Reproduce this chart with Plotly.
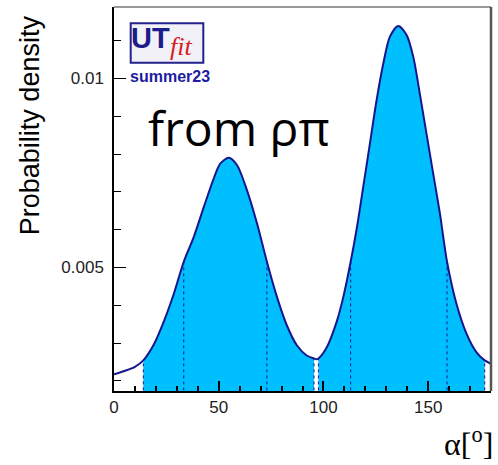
import plotly.graph_objects as go

# ---- data ----
alpha = [0, 5, 10, 14, 19, 24, 28.6, 33.3, 38.1, 42.9, 47.6, 50.8, 54.8, 58.7, 63.5,
         68.3, 73, 77.8, 82.5, 87.3, 92, 95.5, 96.8, 97.6, 101.6, 106.3, 109.5, 113,
         115.9, 119, 122.2, 125.4, 128.6, 131.7, 135.7, 139.7, 142.9, 146, 149.2,
         152.4, 155.6, 159, 163.5, 168.3, 173, 177, 180]
density = [0.00217, 0.00226, 0.00237, 0.00254, 0.00296, 0.00360, 0.00431, 0.00515,
           0.00581, 0.00660, 0.00735, 0.00775, 0.00790, 0.00771, 0.00704, 0.00616,
           0.00515, 0.00422, 0.00347, 0.00294, 0.00267, 0.00259, 0.00257, 0.00259,
           0.00289, 0.00356, 0.00422, 0.00515, 0.00603, 0.00713, 0.00828, 0.00943,
           0.01040, 0.01110, 0.01139, 0.01115, 0.01057, 0.00960, 0.00854, 0.00748,
           0.00643, 0.00515, 0.00404, 0.00325, 0.00276, 0.00254, 0.00245]
# credible-interval region bounds (filled areas)
regions = [(14, 95.5), (97.6, 177)]
# interval edges drawn as dotted lines
edges = [14, 33.3, 73, 95.5, 97.6, 113, 159, 177]

line_col = "#16168c"
fill_col = "#00bfff"

fig = go.Figure()

for lo, hi in regions:
    xs = [a for a in alpha if lo <= a <= hi]
    ys = [d for a, d in zip(alpha, density) if lo <= a <= hi]
    fig.add_trace(go.Scatter(x=xs, y=ys, mode="lines", fill="tozeroy",
                             fillcolor=fill_col, line=dict(width=0, color=fill_col,
                             shape="spline", smoothing=0.8),
                             hoverinfo="skip", showlegend=False))

for e in edges:
    h = density[alpha.index(e)]
    fig.add_trace(go.Scatter(x=[e, e], y=[0, h], mode="lines",
                             line=dict(color=line_col, width=1, dash="dot"),
                             hoverinfo="skip", showlegend=False))

fig.add_trace(go.Scatter(x=alpha, y=density, mode="lines",
                         line=dict(color=line_col, width=2, shape="spline", smoothing=0.8),
                         showlegend=False))

tickfont = dict(family="Liberation Sans", size=17, color="#222")
fig.update_layout(
    width=498, height=465,
    margin=dict(l=114, r=7, t=7, b=74),
    plot_bgcolor="white", paper_bgcolor="white",
    xaxis=dict(range=[0, 180], showline=True, linecolor="black", linewidth=1.5,
               ticks="inside", ticklen=10, tickcolor="black", tickwidth=1.5,
               dtick=50, tick0=0, showgrid=False, zeroline=False, tickfont=tickfont,
               minor=dict(ticks="inside", ticklen=5, dtick=10, tickcolor="black", tickwidth=1.5)),
    yaxis=dict(range=[0.00173, 0.01189], showline=True, linecolor="black", linewidth=1.5,
               ticks="inside", ticklen=12, tickcolor="black", tickwidth=1.2,
               dtick=0.005, tick0=0, showgrid=False, zeroline=False, tickfont=tickfont,
               ticklabelstandoff=5,
               minor=dict(ticks="inside", ticklen=7, dtick=0.001, tickcolor="black", tickwidth=1.2)),
    shapes=[
        dict(type="line", xref="paper", yref="paper", x0=0, x1=1, y0=1, y1=1,
             line=dict(color="#777", width=1.5)),
        dict(type="line", xref="paper", yref="paper", x0=1, x1=1, y0=0, y1=1,
             line=dict(color="#555", width=2.5)),
        dict(type="rect", xref="paper", yref="paper", x0=0.0443, x1=0.2369, y0=0.855, y1=0.9576,
             line=dict(color="#22228a", width=2), fillcolor="#f3f1f8"),
    ],
    annotations=[
        dict(text="Probability density", x=-0.222, y=0.693, xref="paper", yref="paper",
             textangle=-90, showarrow=False, xanchor="center", yanchor="middle",
             font=dict(family="Liberation Sans", size=27, color="black")),
        dict(text="α[<sup>o</sup>]", x=0.9416, y=-0.133, xref="paper", yref="paper",
             showarrow=False, xanchor="center", yanchor="middle",
             font=dict(family="Liberation Serif", size=32, color="black")),
        dict(text="from ρπ", x=0.085, y=0.686, xref="paper", yref="paper",
             showarrow=False, xanchor="left", yanchor="middle",
             font=dict(family="Open Sans", size=48, color="black")),
        dict(text="<b>UT</b>", x=0.0955, y=0.919, xref="paper", yref="paper",
             showarrow=False, xanchor="center", yanchor="middle",
             font=dict(family="Liberation Sans", size=29, color="#1c1c8a")),
        dict(text="<i>fit</i>", x=0.1777, y=0.898, xref="paper", yref="paper",
             showarrow=False, xanchor="center", yanchor="middle",
             font=dict(family="Liberation Serif", size=26, color="#d42020")),
        dict(text="<b>summer23</b>", x=0.1485, y=0.820, xref="paper", yref="paper",
             showarrow=False, xanchor="center", yanchor="middle",
             font=dict(family="Liberation Sans", size=16, color="#1c1ca0")),
    ],
)

fig.write_html("out.html")
